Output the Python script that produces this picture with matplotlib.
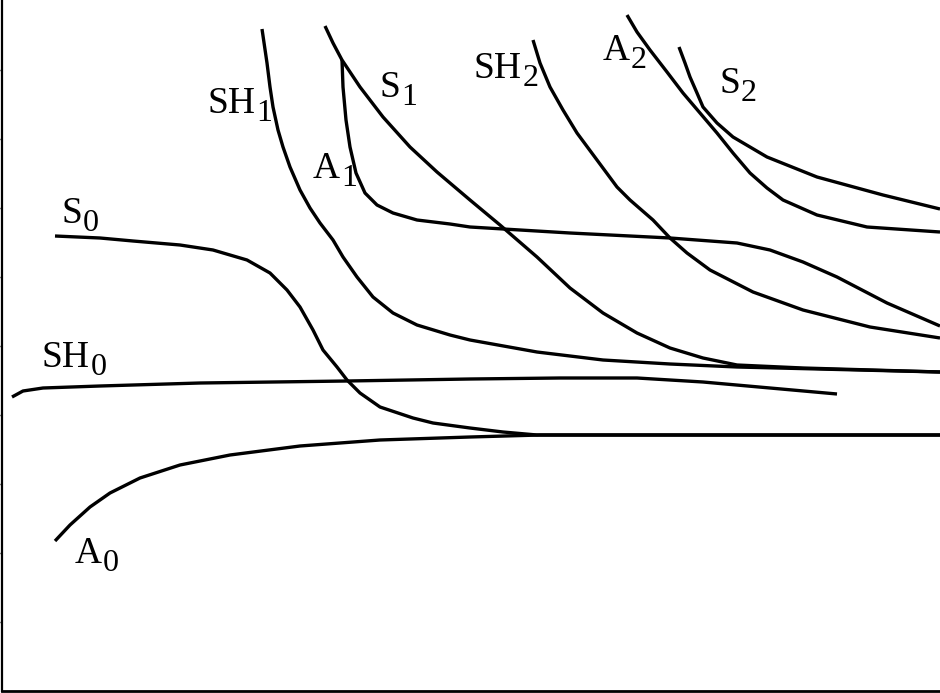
#!/usr/bin/env python3
"""Guided-wave dispersion sketch: Lamb (S, A) and shear-horizontal (SH) modes."""

import matplotlib

matplotlib.use("Agg")
import matplotlib.pyplot as plt
import numpy as np

# frequency-thickness (x) and phase velocity (y), arbitrary sketch units
S0_X = [55, 100, 133, 180, 213, 247, 270, 287, 300, 313, 323, 337, 347, 360, 380,
        413, 433, 470, 503, 537, 940]
S0_Y = [455, 453, 450, 446, 441, 431, 418, 401, 384, 361, 341, 324, 311, 298, 284,
        273, 268, 263, 259, 256, 256]

SH0_X = [12, 23, 43, 100, 200, 347, 470, 560, 637, 703, 770, 837]
SH0_Y = [294, 300, 303, 305, 308, 310, 312, 313, 313, 309, 303, 297]

A0_X = [55, 70, 90, 110, 140, 180, 230, 300, 380, 470, 540, 940]
A0_Y = [150, 166, 184, 198, 213, 226, 236, 245, 251, 254, 256, 256]

SH1_X = [262, 267, 270, 273, 278, 283, 290, 300, 310, 320, 333, 343, 357, 373, 393,
         417, 450, 470, 537, 603, 670, 737, 940]
SH1_Y = [662, 628, 604, 584, 561, 544, 524, 501, 483, 468, 451, 434, 414, 394, 378,
         366, 356, 351, 339, 331, 327, 324, 319]

S1_X = [325, 333, 342, 360, 383, 410, 437, 470, 500, 537, 570, 603, 637,
        670, 703, 737, 803, 940]
S1_Y = [665, 648, 631, 604, 574, 544, 519, 491, 466, 434, 403, 378, 358,
        343, 333, 326, 323, 319]

A1_X = [342, 343, 346, 350, 356, 365, 377, 393, 417, 450, 470, 570, 670, 737, 770,
        803, 837, 887, 940]
A1_Y = [631, 604, 571, 544, 518, 498, 486, 478, 471, 467, 464, 458, 453, 448, 441,
        429, 414, 388, 365]

SH2_X = [533, 540, 550, 563, 577, 597, 617, 630, 653, 670, 687, 710, 753, 803, 870, 940]
SH2_Y = [651, 628, 604, 581, 558, 531, 504, 491, 471, 453, 438, 421, 399, 381, 364, 353]

A2_X = [627, 637, 650, 667, 683, 700, 717, 733, 750, 767, 783, 817, 867, 940]
A2_Y = [676, 659, 641, 619, 598, 578, 558, 538, 518, 503, 491, 476, 464, 459]

S2_X = [679, 685, 690, 697, 703, 717, 733, 750, 767, 817, 883, 940]
S2_Y = [644, 628, 614, 598, 584, 568, 554, 544, 534, 514, 496, 482]

CURVES = [
    (S0_X, S0_Y), (SH0_X, SH0_Y), (A0_X, A0_Y),
    (SH1_X, SH1_Y), (S1_X, S1_Y), (A1_X, A1_Y),
    (SH2_X, SH2_Y), (A2_X, A2_Y), (S2_X, S2_Y),
]

# mode labels: (name, subscript, x, y of baseline start)
LABELS = [
    ("S", "0", 61, 468),
    ("SH", "0", 42, 324),
    ("A", "0", 75, 128),
    ("SH", "1", 207, 578),
    ("S", "1", 379, 594),
    ("A", "1", 313, 513),
    ("SH", "2", 474, 613),
    ("A", "2", 603, 631),
    ("S", "2", 719, 598),
]

W, H = 940, 693
fig = plt.figure(figsize=(W / 100, H / 100), dpi=100)
ax = fig.add_axes([2 / W, 2 / H, 1 - 2 / W, 1 - 2 / H])

for xs, ys in CURVES:
    ax.plot(xs, ys, color="black", lw=2.4, solid_capstyle="butt",
            solid_joinstyle="round")

for name, sub, x, y in LABELS:
    t = ax.text(x, y, name, fontsize=27, family="Liberation Serif",
                ha="left", va="baseline")
    ax.annotate(sub, xy=(1, 0), xycoords=t, xytext=(1, 0),
                textcoords="offset pixels", fontsize=23,
                family="Liberation Serif", ha="left", va="baseline")

ax.set_xlim(2, 940)
ax.set_ylim(0, 691)
ax.set_xticks([])
ax.set_yticks(np.arange(1, 10) * 69)
ax.set_yticklabels([])
ax.tick_params(axis="y", direction="out", length=1.5, width=1.0)
for side in ("top", "right"):
    ax.spines[side].set_visible(False)
ax.spines["left"].set_linewidth(1.6)
ax.spines["bottom"].set_linewidth(2.0)

fig.savefig("out.png", dpi=100)
